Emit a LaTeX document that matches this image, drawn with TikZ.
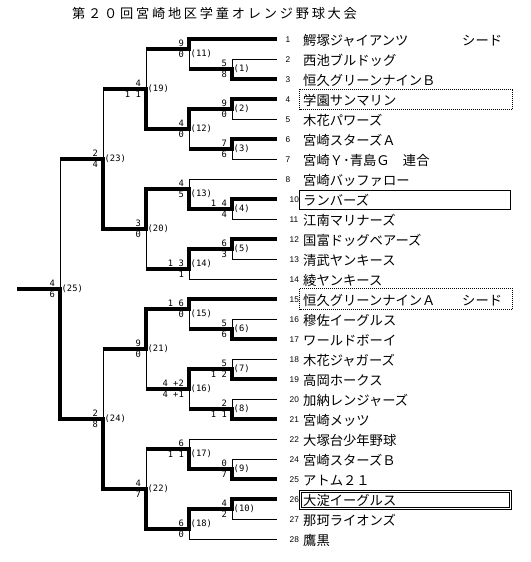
\documentclass[tikz,border=0pt]{standalone}
\usepackage{fontspec}
\usetikzlibrary{calc}
\newfontfamily\jpfont{Noto Sans CJK JP}
\newfontfamily\jptitle[LetterSpace=21]{Noto Sans CJK JP}
\newfontfamily\scorefont{DejaVu Sans Mono}
\newfontfamily\numfont{Liberation Sans}
\tikzset{
  thinl/.style={line width=1pt},
  winl/.style={line width=3.6pt, line join=miter},
  score/.style={inner sep=0pt, font=\scorefont\fontsize{8.8}{10}\selectfont},
  mlab/.style={inner sep=0pt, anchor=west, font=\scorefont\fontsize{8.8}{10}\selectfont},
  teamnum/.style={inner sep=0pt, anchor=west, font=\numfont\fontsize{8.3}{9}\selectfont},
  teamname/.style={inner sep=0pt, anchor=west, text height=11pt, text depth=1pt, font=\jpfont\fontsize{13.3}{14}\selectfont},
  dotbox/.style={line width=1pt, dash pattern=on 1pt off 1pt},
  solbox/.style={line width=1pt},
  dblbox/.style={line width=0.8pt, double=white, double distance=1.4pt},
}
\newcommand\bout[8]{%
  \draw[thinl] (#2) -- (#2 -| #1) -- (#3 -| #1) -- (#3);
  \draw[winl] (#5) -- (#5 -| #1) -- (#1) -- (#1 -| #4);
  \node[score, anchor=south east, xshift=-5pt, yshift=2pt] (#1a) at (#1) {#6};
  \node[score, anchor=north east, xshift=-5pt, yshift=-2pt] (#1b) at (#1) {#7};
  \path (#2) -- (#3) coordinate[pos=0.5] (#1mid);
  \node[mlab, xshift=1.5pt] (#1l) at (#1 |- #1mid) {(#8)};
}
\begin{document}
\begin{tikzpicture}[x=1pt,y=-1pt]
\fill[white] (0,0) rectangle (530,562);
\useasboundingbox (0,0) rectangle (530,562);
\node[inner sep=0pt, anchor=west, text height=11pt, text depth=1pt, font=\jptitle\fontsize{13.2}{14}\selectfont] (title) at (72,13) {第２０回宮崎地区学童オレンジ野球大会};
\foreach \n/\k/\name in {1/0/鰐塚ジャイアンツ, 2/1/西池ブルドッグ, 3/2/恒久グリーンナインＢ, 4/3/学園サンマリン, 5/4/木花パワーズ, 6/5/宮崎スターズＡ, 7/6/宮崎Ｙ･青島Ｇ　連合, 8/7/宮崎バッファロー, 10/8/ランバーズ, 11/9/江南マリナーズ, 12/10/国富ドッグベアーズ, 13/11/清武ヤンキース, 14/12/綾ヤンキース, 15/13/恒久グリーンナインＡ, 16/14/穆佐イーグルス, 17/15/ワールドボーイ, 18/16/木花ジャガーズ, 19/17/高岡ホークス, 20/18/加納レンジャーズ, 21/19/宮崎メッツ, 22/20/大塚台少年野球, 24/21/宮崎スターズＢ, 25/22/アトム２１, 26/23/大淀イーグルス, 27/24/那珂ライオンズ, 28/25/鷹黒}{
  \pgfmathsetmacro\yy{39+20*\k}
  \pgfmathsetmacro\nx{\n<10 ? 285.5 : 289.5}
  \coordinate (t\n) at (277,\yy);
  \node[teamnum] (n\n) at (\nx,\yy+1) {\n};
  \node[teamname] (name\n) at (303,\yy+1) {\name};
}
\node[teamname] (seed1) at (462,40) {シード};
\node[teamname] (seed15) at (462,300) {シード};
% boxes
\draw[dotbox] (299.5,89) rectangle (512.5,109.5);
\draw[solbox] (299.5,190.5) rectangle (510.5,209.5);
\draw[dotbox] (299.5,288.5) rectangle (512.5,309);
\draw[dblbox] (300.7,491.2) rectangle (510.2,508.7);
% junctions
\coordinate (m1) at (232,69);
\coordinate (m2) at (232,109);
\coordinate (m3) at (232,149);
\coordinate (m4) at (232,209);
\coordinate (m5) at (232,249);
\coordinate (m6) at (232,329);
\coordinate (m7) at (232,369);
\coordinate (m8) at (232,409);
\coordinate (m9) at (232,469);
\coordinate (m10) at (232,509);
\coordinate (m11) at (189,49);
\coordinate (m12) at (189,129);
\coordinate (m13) at (189,189);
\coordinate (m14) at (189,269);
\coordinate (m15) at (189,309);
\coordinate (m16) at (189,389);
\coordinate (m17) at (189,449);
\coordinate (m18) at (189,529);
\coordinate (m19) at (146,89);
\coordinate (m20) at (146,229);
\coordinate (m21) at (146,349);
\coordinate (m22) at (146,489);
\coordinate (m23) at (103,159);
\coordinate (m24) at (103,419);
\coordinate (m25) at (60,289);
\coordinate (fin) at (17,289);
\bout{m1}{t2}{t3}{m11}{t3}{5}{8}{1}
\bout{m2}{t4}{t5}{m12}{t4}{9}{0}{2}
\bout{m3}{t6}{t7}{m12}{t6}{7}{6}{3}
\bout{m4}{t10}{t11}{m13}{t10}{1 4}{4}{4}
\bout{m5}{t12}{t13}{m14}{t12}{6}{3}{5}
\bout{m6}{t16}{t17}{m15}{t17}{5}{6}{6}
\bout{m7}{t18}{t19}{m16}{t19}{5}{1 2}{7}
\bout{m8}{t20}{t21}{m16}{t21}{2}{1 1}{8}
\bout{m9}{t24}{t25}{m17}{t25}{0}{7}{9}
\bout{m10}{t26}{t27}{m18}{t26}{4}{2}{10}
\bout{m11}{t1}{m1}{m19}{t1}{9}{0}{11}
\bout{m12}{m2}{m3}{m19}{m2}{4}{0}{12}
\bout{m13}{t8}{m4}{m20}{m4}{4}{5}{13}
\bout{m14}{m5}{t14}{m20}{m5}{1 3}{1}{14}
\bout{m15}{t15}{m6}{m21}{t15}{1 6}{0}{15}
\bout{m16}{m7}{m8}{m21}{m7}{4 +2}{4 +1}{16}
\bout{m17}{t22}{m9}{m22}{m9}{6}{1 1}{17}
\bout{m18}{m10}{t28}{m22}{m10}{6}{0}{18}
\bout{m19}{m11}{m12}{m23}{m12}{4}{1 1}{19}
\bout{m20}{m13}{m14}{m23}{m13}{3}{0}{20}
\bout{m21}{m15}{m16}{m24}{m15}{9}{0}{21}
\bout{m22}{m17}{m18}{m24}{m18}{4}{7}{22}
\bout{m23}{m19}{m20}{m25}{m20}{2}{4}{23}
\bout{m24}{m21}{m22}{m25}{m22}{2}{8}{24}
\bout{m25}{m23}{m24}{fin}{m24}{4}{6}{25}
\end{tikzpicture}
\end{document}
